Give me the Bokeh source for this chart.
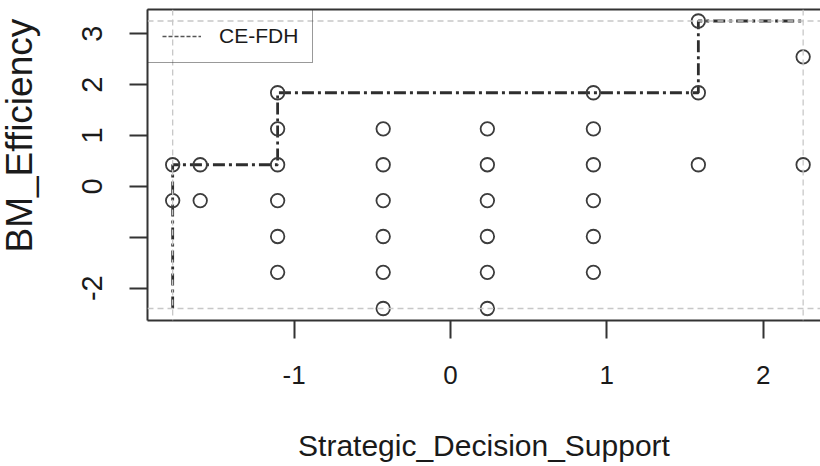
import numpy as np
from bokeh.plotting import figure
from bokeh.layouts import row
from bokeh.models import (FixedTicker, Span, Legend, LegendItem, ColumnDataSource,
                          LinearAxis, Label, Range1d)
from bokeh.embed import file_html
from bokeh.resources import INLINE

# ---------------- data ----------------
x_title = "Strategic_Decision_Support"
y_title = "BM_Efficiency"
legend_label = "CE-FDH"
x_ticks = [-1, 0, 1, 2]
x_tick_labels = {-1: "-1", 0: "0", 1: "1", 2: "2"}
y_ticks = [-2, -1, 0, 1, 2, 3]
y_tick_labels = {-2: "-2", -1: "", 0: "0", 1: "1", 2: "2", 3: "3"}

# observations (standardized scores)
sds = [-1.776, -1.776,
       -1.60, -1.60,
       -1.105, -1.105, -1.105, -1.105, -1.105, -1.105,
       -0.43, -0.43, -0.43, -0.43, -0.43, -0.43,
       0.236, 0.236, 0.236, 0.236, 0.236, 0.236,
       0.914, 0.914, 0.914, 0.914, 0.914, 0.914,
       1.585, 1.585, 1.585,
       2.255, 2.255]
bme = [0.425, -0.28,
       0.425, -0.28,
       1.84, 1.13, 0.425, -0.28, -0.985, -1.69,
       1.13, 0.425, -0.28, -0.985, -1.69, -2.40,
       1.13, 0.425, -0.28, -0.985, -1.69, -2.40,
       1.84, 1.13, 0.425, -0.28, -0.985, -1.69,
       3.25, 1.84, 0.425,
       2.545, 0.425]

# ---------------- CE-FDH ceiling (step function of running max) ----------------
xs = np.array(sds)
ys = np.array(bme)
xmin, xmax, ymin, ymax = xs.min(), xs.max(), ys.min(), ys.max()
fx, fy = [xmin], [ymin]
cur = None
for u in np.unique(xs):
    m = ys[xs <= u].max()
    if cur is None or m > cur:
        fx += [u, u]
        fy += [fy[-1], m]
        cur = m
fx.append(xmax)
fy.append(cur)

# ---------------- styling constants ----------------
FONT = "Liberation Sans"
AX = "#333333"
TXT = "#1a1a1a"
W, H = 820, 466
TW = 60                      # width of the strip that carries the y-axis title
B_TOP, B_BOTTOM = 9, 146     # frame borders (shared by both panels of the row)

# ---------------- y-title strip ----------------
t = figure(width=TW, height=H, x_range=Range1d(0, TW),
           y_range=Range1d(B_BOTTOM, H - B_TOP),
           output_backend="svg", toolbar_location=None,
           x_axis_location=None, y_axis_location=None,
           min_border_left=0, min_border_right=0,
           min_border_top=B_TOP, min_border_bottom=B_BOTTOM)
t.grid.visible = False
t.outline_line_color = None
t.add_layout(Label(x=19, y=H - 252, text=y_title, angle=np.pi / 2,
                   text_align="left", text_baseline="alphabetic",
                   text_font=FONT, text_font_size="37px", text_color=TXT))

# ---------------- main plot ----------------
p = figure(width=W - TW, height=H,
           x_range=Range1d(-1.937, 2.366), y_range=Range1d(-2.636, 3.476),
           output_backend="svg", toolbar_location=None,
           min_border_left=147 - TW, min_border_right=0, min_border_top=B_TOP,
           min_border_bottom=B_BOTTOM)
p.grid.visible = False
p.outline_line_color = None
p.background_fill_color = "white"
p.border_fill_color = "white"

for ax in (p.xaxis[0], p.yaxis[0]):
    ax.major_tick_out = 18
    ax.major_tick_in = 0
    ax.minor_tick_line_color = None
    ax.axis_line_color = AX
    ax.axis_line_width = 2
    ax.major_tick_line_color = AX
    ax.major_tick_line_width = 2
    ax.major_label_text_font = FONT
    ax.major_label_text_color = TXT

p.xaxis.ticker = FixedTicker(ticks=x_ticks)
p.xaxis.major_label_overrides = x_tick_labels
p.xaxis.major_label_text_font_size = "26px"
p.xaxis.major_label_standoff = 27
p.xaxis.axis_label = x_title
p.xaxis.axis_label_text_font = FONT
p.xaxis.axis_label_text_font_size = "30px"
p.xaxis.axis_label_text_font_style = "normal"
p.xaxis.axis_label_text_color = TXT
p.xaxis.axis_label_standoff = 42

p.yaxis.ticker = FixedTicker(ticks=y_ticks)
p.yaxis.major_label_overrides = y_tick_labels
p.yaxis.major_label_text_font_size = "29px"
p.yaxis.major_label_orientation = "vertical"
p.yaxis.major_label_standoff = 27

# top border line
top = LinearAxis(ticker=FixedTicker(ticks=[]), major_tick_in=0, major_tick_out=0,
                 minor_tick_in=0, minor_tick_out=0, major_label_standoff=0,
                 major_label_text_font_size="0px", axis_line_color=AX, axis_line_width=2)
p.add_layout(top, "above")

# reference lines (data extent)
for loc, dim in ((ymin, "width"), (ymax, "width"), (xmin, "height"), (xmax, "height")):
    p.add_layout(Span(location=loc, dimension=dim, line_color="#c8c8c8",
                      line_width=1.3, line_dash="6 4"))

# ceiling line
p.line(fx, fy, line_color="#2e2e2e", line_width=2.8, line_dash="12 4 3 4")

# points
p.scatter(sds, bme, marker="circle", size=13.5, fill_color=None,
          line_color="#3c3c3c", line_width=1.8)

# legend key (thin line as drawn in the key; NaN keeps it off the plot)
dummy = p.line(x="x", y="y",
               source=ColumnDataSource(dict(x=np.array([np.nan]), y=np.array([np.nan]))),
               line_color="#555555", line_width=1.3, line_dash="4 2")
legend = Legend(items=[LegendItem(label=legend_label, renderers=[dummy])],
                location="top_left", margin=0, padding=14, spacing=0,
                glyph_width=39, glyph_height=20, label_height=20, label_standoff=18,
                label_text_font=FONT, label_text_font_size="21px",
                label_text_color=TXT,
                border_line_color=AX, border_line_width=1.5,
                background_fill_alpha=0)
p.add_layout(legend)

layout = row(t, p, spacing=0)
open("out.html", "w").write(file_html(layout, INLINE))
